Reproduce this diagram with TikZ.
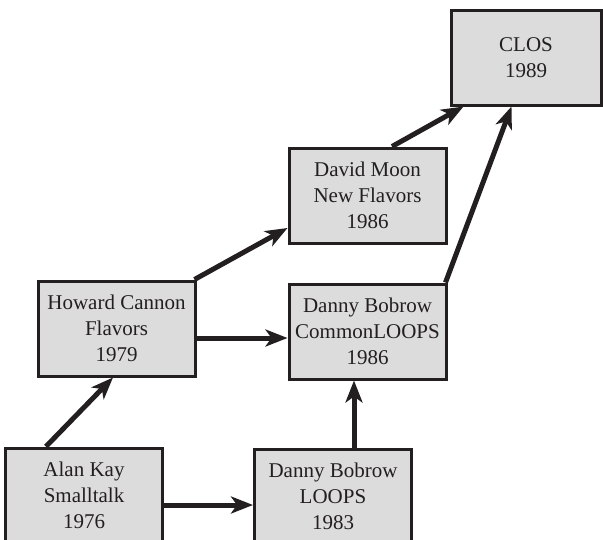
\documentclass[tikz,border=0pt]{standalone}
\usepackage{fontspec}
\setmainfont{Liberation Serif}
\usetikzlibrary{arrows.meta,calc}
\definecolor{ink}{HTML}{231F20}
\definecolor{boxfill}{HTML}{DCDCDC}
\begin{document}
\begin{tikzpicture}[x=1pt,y=-1pt,
  entry/.style={draw=ink,fill=boxfill,line width=3pt,minimum width=157pt,minimum height=95pt,
    inner sep=0pt,align=center,text=ink,font=\fontsize{21}{26}\selectfont},
  link/.style={draw=ink,line width=5pt,-{Stealth[length=22pt,width=17pt,inset=6pt]}}]
\useasboundingbox (0,0) rectangle (603,539);
\clip (0,0) rectangle (603,539);
\node[entry] (alan) at (84,495.5) {Alan Kay\\Smalltalk\\1976};
\node[entry] (loops) at (333,496.5) {Danny Bobrow\\LOOPS\\1983};
\node[entry] (howard) at (116.5,328.5) {Howard Cannon\\Flavors\\1979};
\node[entry] (common) at (367.5,331.5) {Danny Bobrow\\CommonLOOPS\\1986};
\node[entry] (moon) at (367.5,195.5) {David Moon\\New Flavors\\1986};
\node[entry,minimum width=150pt] (clos) at (526,57.5) {CLOS\\1989};
\draw[link] ([xshift=42pt]alan.north west) -- ([xshift=-3.5pt]howard.south);
\draw[link] ([xshift=-2pt]howard.north east) -- ([yshift=-32.5pt]moon.west);
\draw[link] ([yshift=-9.5pt]howard.east) -- ([yshift=-9.5pt]howard.east -| common.west);
\draw[link] ([yshift=-9.5pt]alan.east) -- ([yshift=-9.5pt]alan.east -| loops.west);
\draw[link] ([xshift=21pt]loops.north) -- ([xshift=21pt]loops.north |- common.south);
\draw[link] ([xshift=24.5pt]moon.north) -- ([xshift=14pt]clos.south west);
\draw[link] ([xshift=-2pt]common.north east) -- ([xshift=62pt]clos.south west);
\end{tikzpicture}
\end{document}
